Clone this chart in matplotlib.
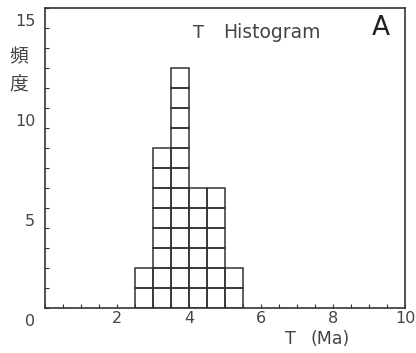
import matplotlib
matplotlib.use("Agg")
import matplotlib.pyplot as plt
import matplotlib.transforms as mtransforms
from matplotlib.ticker import MultipleLocator, FixedLocator

# Histogram of T (Ma): left bin edges and counts per 0.5 Ma bin
bin_left = [2.5, 3.0, 3.5, 4.0, 4.5, 5.0]
counts = [2, 8, 12, 6, 6, 2]
bin_width = 0.5

x_major = [2, 4, 6, 8, 10]
x_labels = ["2", "4", "6", "8", "10"]
y_major = [0, 5, 10, 15]
y_labels = ["0", "5", "10", "15"]

ink = "#333333"
text_ink = "#444444"

W, H = 416, 353
fig = plt.figure(figsize=(W / 100, H / 100), dpi=100)
fig.patch.set_facecolor("white")
ax = fig.add_axes([45 / W, (H - 308) / H, (405 - 45) / W, (308 - 8) / H])
ax.set_xlim(0, 10)
ax.set_ylim(0, 15)

# each count is drawn as its own unit cell, stacked up the bin
for level in range(max(counts)):
    lefts = [b for b, c in zip(bin_left, counts) if c > level]
    if lefts:
        ax.bar(lefts, [1] * len(lefts), width=bin_width, bottom=level,
               align="edge", facecolor="none", edgecolor=ink, linewidth=1.1)

for s in ax.spines.values():
    s.set_color(ink)
    s.set_linewidth(1.2)

ax.xaxis.set_major_locator(FixedLocator(x_major))
ax.set_xticklabels(x_labels)
ax.xaxis.set_minor_locator(MultipleLocator(0.5))
ax.yaxis.set_major_locator(FixedLocator(y_major))
ax.set_yticklabels(y_labels)
ax.yaxis.set_minor_locator(MultipleLocator(1))

ax.tick_params(which="both", direction="in", length=3, width=0.8, color=ink,
               top=False, right=False)
ax.tick_params(axis="x", which="major", pad=2, labelsize=11.5, labelcolor=text_ink)
ax.tick_params(axis="y", which="major", pad=7, labelsize=11.5, labelcolor=text_ink)

# y labels sit a little below their ticks
shift = mtransforms.ScaledTranslation(0, -0.12, fig.dpi_scale_trans)
for lab in ax.get_yticklabels():
    lab.set_transform(lab.get_transform() + shift)

fig.text(19 / W, 1 - 57 / H, "頻", fontsize=13.5, color=text_ink,
         family=["Noto Sans CJK JP", "DejaVu Sans"], ha="center", va="center")
fig.text(19 / W, 1 - 85 / H, "度", fontsize=13.5, color=text_ink,
         family=["Noto Sans CJK JP", "DejaVu Sans"], ha="center", va="center")

fig.text(193 / W, 1 - 33 / H, "T", fontsize=13, color=text_ink, ha="left", va="center")
fig.text(223 / W, 1 - 33 / H, "Histogram", fontsize=13.5, color=text_ink, ha="left", va="center")
fig.text(381 / W, 1 - 28 / H, "A", fontsize=19, color="#222222", ha="center", va="center")
fig.text(285 / W, 1 - 339 / H, "T", fontsize=12.5, color=text_ink, ha="left", va="center")
fig.text(311 / W, 1 - 339 / H, "(Ma)", fontsize=12.5, color=text_ink, ha="left", va="center")

fig.savefig("out.png", dpi=100, facecolor="white")
